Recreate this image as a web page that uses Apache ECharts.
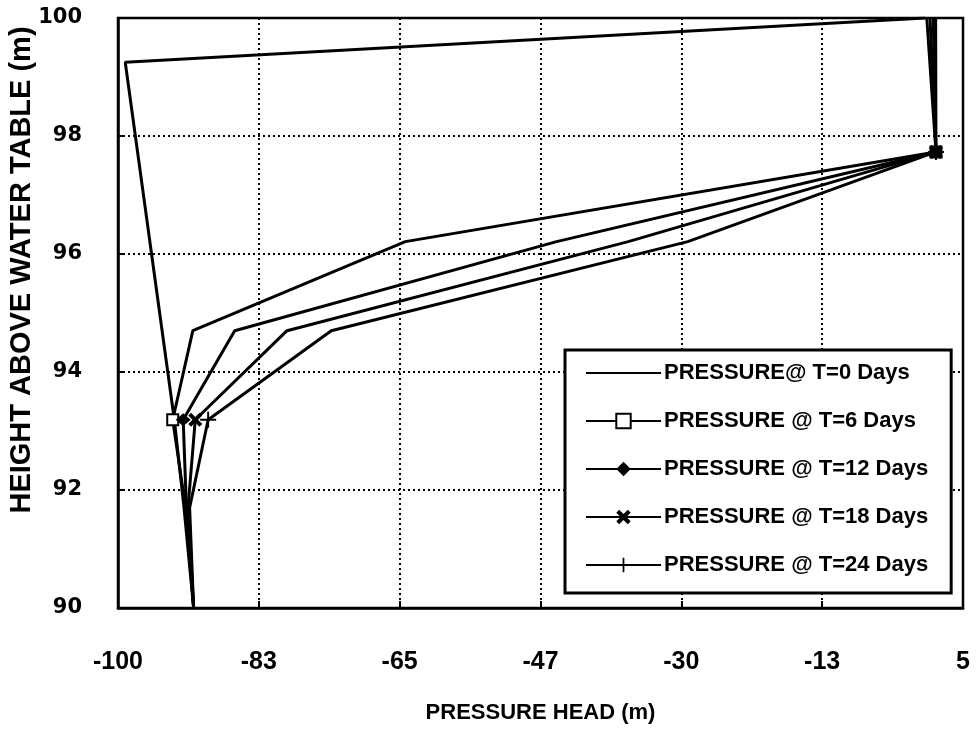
<!DOCTYPE html>
<html>
<head>
<meta charset="utf-8">
<script src="https://cdn.jsdelivr.net/npm/echarts@6/dist/echarts.min.js"></script>
<style>
  html, body { margin: 0; padding: 0; background: #fff; }
  #chart { width: 977px; height: 732px; }
</style>
</head>
<body>
<div id="chart"></div>
<script>
// ---- data ----
const seriesNames = [
  'PRESSURE@ T=0 Days',
  'PRESSURE @ T=6 Days',
  'PRESSURE @ T=12 Days',
  'PRESSURE @ T=18 Days',
  'PRESSURE @ T=24 Days'
];
const xTickLabels = ['-100', '-83', '-65', '-47', '-30', '-13', '5'];
const yTickLabels = ['90', '92', '94', '96', '98', '100'];

const t0Heights   = [100, 99.25, 93.19, 91.70, 90];
const t0Pressure  = [0.3, -99.1, -93.0, -91.8, -90.6];

const heights     = [100, 97.73, 96.21, 94.70, 93.19, 91.70, 90];
const t6Pressure  = [0.5, 1.64, -64.3, -90.7, -93.2, -91.6, -90.6];
const t12Pressure = [0.9, 1.64, -45.5, -85.5, -91.9, -91.5, -90.6];
const t18Pressure = [1.3, 1.64, -36.6, -79.0, -90.4, -91.3, -90.6];
const t24Pressure = [1.6, 1.64, -29.2, -73.5, -88.8, -91.1, -90.6];

// ---- chart ----
const SANS = "'Liberation Sans', Arial, Helvetica, sans-serif";
const WIDE = "'DejaVu Sans', 'Liberation Sans', Arial, sans-serif";
const markedIdx = [1, 4];

function pairs(xs, ys, marked) {
  return xs.map((x, i) => marked && marked.indexOf(i) >= 0
    ? { value: [x, ys[i]] }
    : { value: [x, ys[i]], symbol: 'none' });
}

const xMark = 'path://M0,2 L2,0 L5,3 L8,0 L10,2 L7,5 L10,8 L8,10 L5,7 L2,10 L0,8 L3,5 Z';
const plusMark = 'path://M4.4,0 H5.6 V4.4 H10 V5.6 H5.6 V10 H4.4 V5.6 H0 V4.4 H4.4 Z';

const baseLine = { color: '#000', width: 3 };

const chart = echarts.init(document.getElementById('chart'), null, { renderer: 'canvas' });
chart.setOption({
  backgroundColor: '#fff',
  animation: false,
  grid: {
    left: 118, right: 14, top: 18, bottom: 124,
    outerBoundsMode: 'none', containLabel: false,
    show: true, borderColor: '#000', borderWidth: 2.5, backgroundColor: 'transparent'
  },
  xAxis: {
    type: 'value', min: -100, max: 5, interval: 17.5,
    name: 'PRESSURE HEAD (m)', nameLocation: 'middle', nameGap: 94, nameMoveOverlap: false,
    nameTextStyle: { fontFamily: SANS, fontWeight: 'bold', fontSize: 22, color: '#000' },
    axisLine: { show: true, onZero: false, lineStyle: { color: '#000', width: 2.5 } },
    axisTick: { show: true, inside: true, length: 7, lineStyle: { color: '#000', width: 2 } },
    axisLabel: {
      margin: 42, color: '#000', fontFamily: SANS, fontWeight: 'bold', fontSize: 25,
      formatter: v => xTickLabels[Math.round((v + 100) / 17.5)] ?? ''
    },
    splitLine: { show: true, lineStyle: { color: '#000', width: 2, type: [2, 3] } }
  },
  yAxis: {
    type: 'value', min: 90, max: 100, interval: 2,
    name: 'HEIGHT ABOVE WATER TABLE (m)', nameLocation: 'middle', nameGap: 82, nameMoveOverlap: false,
    nameTextStyle: { fontFamily: SANS, fontWeight: 'bold', fontSize: 29, color: '#000', padding: [0, 0, 0, 86] },
    axisLine: { show: true, onZero: false, lineStyle: { color: '#000', width: 2.5 } },
    axisTick: { show: true, inside: true, length: 7, lineStyle: { color: '#000', width: 2 } },
    axisLabel: {
      margin: 36, color: '#000', fontFamily: WIDE, fontWeight: 'bold', fontSize: 21,
      formatter: v => yTickLabels[Math.round((v - 90) / 2)] ?? ''
    },
    splitLine: { show: true, lineStyle: { color: '#000', width: 2, type: [2, 3] } }
  },
  legend: {
    orient: 'vertical', left: 565, top: 350,
    backgroundColor: '#fff', borderColor: '#000', borderWidth: 3, borderRadius: 0,
    padding: [12, 23, 17, 20],
    itemWidth: 75, itemHeight: 18, itemGap: 26,
    textStyle: { fontFamily: SANS, fontWeight: 'bold', fontSize: 22, color: '#000', padding: [0, 0, 0, -2] },
    data: [
      { name: seriesNames[0], itemStyle: { color: 'rgba(0,0,0,0)', borderWidth: 0 } },
      seriesNames[1], seriesNames[2], seriesNames[3], seriesNames[4]
    ]
  },
  series: [
    {
      name: seriesNames[0], type: 'line', symbol: 'none',
      lineStyle: baseLine, itemStyle: { color: '#000' },
      data: pairs(t0Pressure, t0Heights, null)
    },
    {
      name: seriesNames[1], type: 'line', symbol: 'emptyRect', symbolSize: 11, showAllSymbol: true,
      lineStyle: baseLine, itemStyle: { color: '#000', borderWidth: 2.5 },
      data: pairs(t6Pressure, heights, markedIdx)
    },
    {
      name: seriesNames[2], type: 'line', symbol: 'diamond', symbolSize: [15, 13], showAllSymbol: true,
      lineStyle: baseLine, itemStyle: { color: '#000' },
      data: pairs(t12Pressure, heights, markedIdx)
    },
    {
      name: seriesNames[3], type: 'line', symbol: xMark, symbolSize: 14, showAllSymbol: true,
      lineStyle: baseLine, itemStyle: { color: '#000' },
      data: pairs(t18Pressure, heights, markedIdx)
    },
    {
      name: seriesNames[4], type: 'line', symbol: plusMark, symbolSize: 16, showAllSymbol: true,
      lineStyle: baseLine, itemStyle: { color: '#000' },
      data: pairs(t24Pressure, heights, markedIdx)
    }
  ]
});
</script>
</body>
</html>
